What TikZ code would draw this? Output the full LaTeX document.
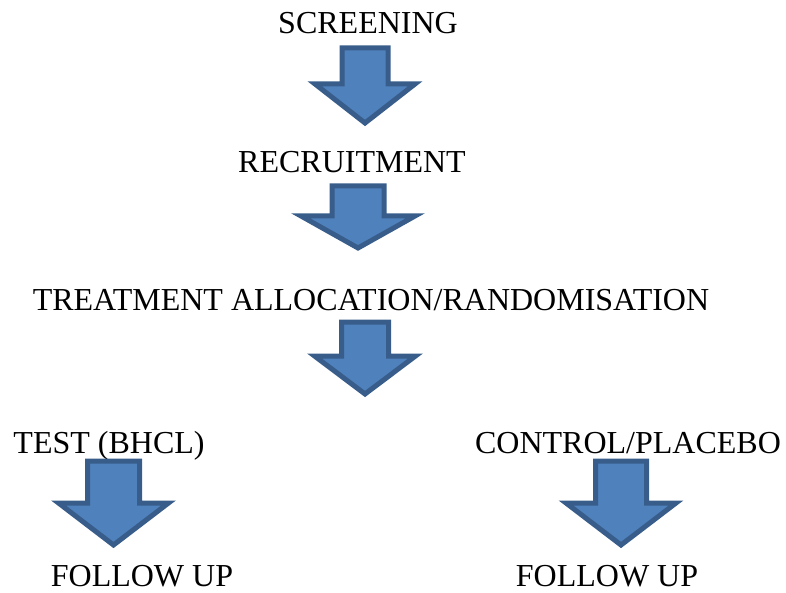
\documentclass[tikz,border=0pt]{standalone}
\usepackage{fontspec}
\setmainfont{Liberation Serif}
\usepackage{tikz}
\definecolor{arrowfill}{RGB}{79, 129, 189}
\definecolor{arrowline}{RGB}{56, 93, 138}
\usetikzlibrary{positioning, calc}

% block arrow: centre x, top, half shaft, head base, half head, tip
\newcommand{\blockarrow}[6]{%
  \draw[blockarr] (#1-#3,#2) -- (#1+#3,#2) -- (#1+#3,#4) -- (#1+#5,#4)
    -- (#1,#6) -- (#1-#5,#4) -- (#1-#3,#4) -- cycle;}

\begin{document}
\begin{tikzpicture}[
    x=1pt, y=-1pt,
    label/.style={anchor=base, inner sep=0pt, font=\fontsize{32}{38}\selectfont},
    blockarr/.style={draw=arrowline, fill=arrowfill, line width=5pt, line join=miter}
]
    \useasboundingbox (0,0) rectangle (786,593);

    \node[label] (screening) at (368,34) {SCREENING};
    \node[label] (recruit) at (352,173) {RECRUITMENT};
    \node[label] (alloc) at (371,310) {TREATMENT ALLOCATION/RANDOMISATION};
    \node[label] (test) at (109,453) {TEST (BHCL)};
    \node[label] (control) at (628,453) {CONTROL/PLACEBO};
    \node[label] (followa) at (142,586) {FOLLOW UP};
    \node[label] (followb) at (607,586) {FOLLOW UP};

    % arrows between the stages
    \blockarrow{365}{48}{23}{84}{50}{123}
    \blockarrow{358}{186}{26}{216}{57}{248}
    \blockarrow{365}{322}{23.5}{356}{50.5}{394}
    \blockarrow{113.5}{461}{26}{503}{55}{545}
    \blockarrow{621}{461}{25.5}{503}{55}{545}
\end{tikzpicture}
\end{document}
